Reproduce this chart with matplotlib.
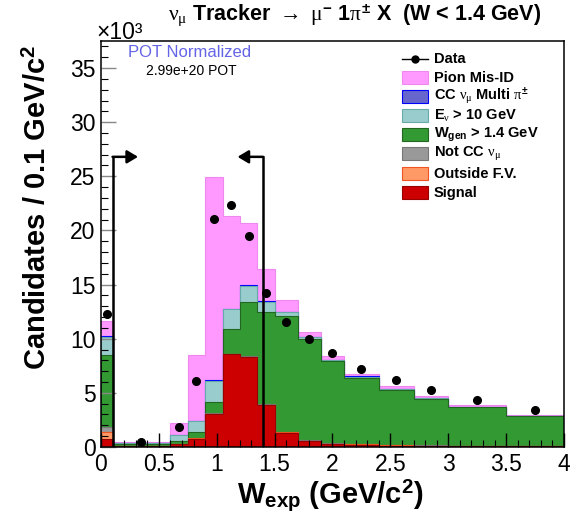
import numpy as np
import matplotlib
matplotlib.use('Agg')
import matplotlib.pyplot as plt
from matplotlib.patches import Rectangle
from matplotlib.lines import Line2D
from matplotlib.ticker import MultipleLocator, FuncFormatter

plt.rcParams['font.family'] = 'Liberation Sans'
plt.rcParams['mathtext.fontset'] = 'custom'
plt.rcParams['mathtext.rm'] = 'Liberation Sans:bold'
plt.rcParams['mathtext.bf'] = 'Liberation Sans:bold'
plt.rcParams['mathtext.it'] = 'Liberation Serif'

# bin edges in W_exp (GeV/c^2)
edges = [0, 0.1, 0.6, 0.75, 0.9, 1.05, 1.2, 1.35, 1.5, 1.7, 1.9, 2.1, 2.4, 2.7, 3.0, 3.5, 4.0]

# stacked MC components (x10^3 candidates), bottom to top
signal  = [0.71, 0.05, 0.25, 0.77, 3.04, 8.56, 8.32, 3.87, 1.32, 0.55, 0.28, 0.22, 0.12, 0.08, 0.06, 0.05]
outside = [0.70, 0.02, 0.02, 0.03, 0.02, 0.02, 0.02, 0.02, 0.02, 0.02, 0.02, 0.03, 0.03, 0.04, 0.04, 0.03]
notcc   = [0.40, 0.03, 0.03, 0.05, 0.04, 0.04, 0.04, 0.04, 0.04, 0.03, 0.03, 0.03, 0.03, 0.03, 0.02, 0.02]
wgen    = [6.66, 0.18, 0.25, 0.50, 1.01, 2.25, 5.00, 8.56, 10.68, 9.40, 7.62, 6.13, 5.07, 4.30, 3.53, 2.72]
ehigh   = [1.73, 0.07, 0.52, 1.01, 2.01, 1.85, 1.52, 0.91, 0.39, 0.14, 0.08, 0.09, 0.08, 0.05, 0.05, 0.04]
multipi = [0.05, 0.01, 0.02, 0.03, 0.05, 0.05, 0.05, 0.04, 0.04, 0.02, 0.02, 0.02, 0.02, 0.02, 0.02, 0.02]
misid   = [1.38, 0.13, 1.15, 6.11, 18.78, 8.59, 5.77, 2.98, 1.05, 0.46, 0.33, 0.26, 0.27, 0.18, 0.12, 0.07]

# data (x10^3 candidates)
data = [12.3, 0.45, 1.87, 6.05, 21.1, 22.38, 19.46, 14.21, 11.51, 9.94, 8.72, 7.24, 6.17, 5.28, 4.33, 3.44]

# cut positions
cut_lo = 0.1
cut_hi = 1.4

labels = ['Signal', 'Outside F.V.', r'Not CC $\nu_{\mu}$', r'W$_{\mathrm{gen}}$ > 1.4 GeV',
          r'E$_{\nu}$ > 10 GeV', r'CC $\nu_{\mu}$ Multi $\pi^{\pm}$', 'Pion Mis-ID']
faces = ['#cc0000', '#ff9966', '#999999', '#339933', '#99cccc', '#6666cc', '#ff99ff']
lines = ['#990000', '#ee5522', '#777777', '#226622', '#66aaaa', '#0000ff', '#ee88ee']

fig = plt.figure(figsize=(5.83, 5.13), dpi=100)
fig.patch.set_facecolor('white')
ax = fig.add_axes([0.1732, 0.1287, 0.7942, 0.7914])

stack = np.cumsum([signal, outside, notcc, wgen, ehigh, multipi, misid], axis=0)
for i in reversed(range(len(stack))):
    ax.stairs(stack[i], edges, baseline=0, fill=True,
              facecolor=faces[i], edgecolor=lines[i], lw=0.8)

edges_arr = np.array(edges)
centers = 0.5 * (edges_arr[:-1] + edges_arr[1:])
ax.plot(centers, data, 'o', color='k', ms=5.5, zorder=5)

# cut lines with arrows
cut_y = 26.8
for xc, xtip in [(cut_lo, 0.32), (cut_hi, 1.18)]:
    ax.plot([xc, xc], [0, cut_y], color='k', lw=1.8, solid_capstyle='projecting', zorder=6)
    ax.annotate('', xy=(xtip, cut_y), xytext=(xc, cut_y),
                arrowprops=dict(arrowstyle='-|>,head_length=0.5,head_width=0.3',
                                color='k', lw=1.8, shrinkA=0, shrinkB=0,
                                mutation_scale=13), zorder=6)

ax.set_xlim(0, 4)
ax.set_ylim(0, 37.5)
ax.xaxis.set_major_locator(MultipleLocator(0.5))
ax.xaxis.set_minor_locator(MultipleLocator(0.1))
ax.yaxis.set_major_locator(MultipleLocator(5))
ax.yaxis.set_minor_locator(MultipleLocator(1))
fmt = FuncFormatter(lambda v, _: f'{v:g}')
ax.xaxis.set_major_formatter(fmt)
ax.yaxis.set_major_formatter(fmt)
ax.tick_params(which='both', direction='in', top=False, right=False, labelsize=16.5)
ax.tick_params(axis='y', which='major', length=11, width=1, color='#888888', pad=4)
ax.tick_params(axis='x', which='major', length=10, width=1, pad=4)
ax.tick_params(which='minor', length=5, width=0.8)
for sp in ax.spines.values():
    sp.set_linewidth(1.1)

ax.set_ylabel(r'Candidates / 0.1 GeV/c$^{2}$', fontsize=21, fontweight='bold')
ax.yaxis.set_label_coords(-0.105, 0.59)
ax.set_xlabel(r'W$_{\mathrm{exp}}$ (GeV/c$^{2}$)', fontsize=21, fontweight='bold')
ax.xaxis.set_label_coords(0.495, -0.077)

ax.text(-0.009, 1.006, '×10³', transform=ax.transAxes, fontsize=16.5, ha='left', va='baseline')
fig.text(355 / 583, 1 - 16 / 513, r'$\nu_{\mu}$ Tracker $\rightarrow$ $\mu^{-}$ 1$\pi^{\pm}$ X  (W < 1.4 GeV)',
         fontsize=15.5, fontweight='bold', ha='center', va='center')

ax.text(0.192, 0.971, 'POT Normalized', transform=ax.transAxes, fontsize=12,
        color='#6464e6', ha='center', va='center')
ax.text(0.196, 0.927, '2.99e+20 POT', transform=ax.transAxes, fontsize=10,
        ha='center', va='center')

# legend drawn by hand, ROOT style
rows_px = [59, 78, 97, 116, 135, 154, 174, 193]
ys = [(447 - r) / 406 for r in rows_px]
x0, w, h = 0.650, 0.0562, 0.032
ax.add_line(Line2D([x0, x0 + w], [ys[0], ys[0]], color='k', lw=1, transform=ax.transAxes))
ax.plot([x0 + w / 2], [ys[0]], 'o', color='k', ms=5, transform=ax.transAxes)
ax.text(0.719, ys[0], 'Data', transform=ax.transAxes, fontsize=10.5, fontweight='bold', va='center')
for k, i in enumerate(reversed(range(len(labels)))):
    yy = ys[k + 1]
    ax.add_patch(Rectangle((x0, yy - h / 2), w, h, transform=ax.transAxes,
                           facecolor=faces[i], edgecolor=lines[i], lw=0.8))
    ax.text(0.719, yy, labels[i], transform=ax.transAxes, fontsize=10.5,
            fontweight='bold', va='center')

fig.savefig('out.png', dpi=100, facecolor='white')
